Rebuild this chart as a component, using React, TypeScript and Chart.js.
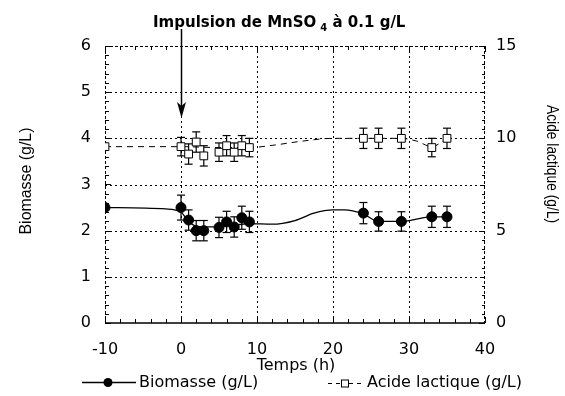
import React, { useEffect, useRef } from 'react';
import { Chart, registerables } from 'chart.js';

Chart.register(...registerables);

// ---- data ----
const hours = [-10, 0, 1, 2, 3, 5, 6, 7, 8, 9, 24, 26, 29, 33, 35];
const biomasse = [2.5, 2.5, 2.23, 2.0, 2.0, 2.07, 2.19, 2.08, 2.28, 2.19, 2.38, 2.2, 2.2, 2.3, 2.3];
const biomasseErr = [0, 0.27, 0.22, 0.22, 0.22, 0.22, 0.23, 0.22, 0.25, 0.23, 0.23, 0.21, 0.21, 0.23, 0.23];
const acide = [9.55, 9.55, 9.15, 9.8, 9.05, 9.25, 9.6, 9.25, 9.6, 9.5, 10, 10, 10, 9.5, 10];
const acideErr = [0, 0.5, 0.55, 0.55, 0.55, 0.5, 0.55, 0.5, 0.55, 0.5, 0.55, 0.55, 0.55, 0.5, 0.55];

// smoothed fit curves as drawn in the figure
const biomasseFitHours = [-10, -2, 0, 1, 2, 4, 6, 9, 12, 15, 17.5, 20, 21.5, 24, 26, 29, 33, 35];
const biomasseFit = [2.5, 2.47, 2.4, 2.2, 2.1, 2.08, 2.1, 2.15, 2.14, 2.22, 2.38, 2.45, 2.45, 2.36, 2.2, 2.2, 2.3, 2.3];
const acideFitHours = [-10, 0, 5, 9, 12, 16, 20, 24, 29, 31, 33, 35];
const acideFit = [9.55, 9.55, 9.5, 9.5, 9.62, 9.85, 10, 10, 10, 9.85, 9.55, 10];

const xGrid = [0, 10, 20, 30];
const yGrid = [1, 2, 3, 4, 5];

const TITLE_MAIN = 'Impulsion de MnSO';
const TITLE_SUB = '4';
const TITLE_END = ' à 0.1 g/L';
const LEFT_TITLE = 'Biomasse (g/L)';
const RIGHT_TITLE = 'Acide lactique (g/L)';
const X_TITLE = 'Temps (h)';
const LEG1 = 'Biomasse (g/L)';
const LEG2 = 'Acide lactique (g/L)';

function fitText(ctx: CanvasRenderingContext2D, text: string, x: number, y: number, target: number) {
  const w = ctx.measureText(text).width;
  const s = target / w;
  ctx.save();
  ctx.translate(x, y);
  ctx.scale(s, 1);
  ctx.textAlign = 'center';
  ctx.fillText(text, 0, 0);
  ctx.restore();
}

const decorPlugin = {
  id: 'decor',
  beforeDatasetsDraw(chart: any) {
    const { ctx, chartArea: a, scales } = chart;
    const xs = scales.x, ys = scales.y, yr = scales.y1;
    const line = (x1: number, y1: number, x2: number, y2: number) => {
      ctx.beginPath();
      ctx.moveTo(x1, y1);
      ctx.lineTo(x2, y2);
      ctx.stroke();
    };
    ctx.save();
    ctx.strokeStyle = '#000';
    ctx.fillStyle = '#000';
    // grid
    ctx.lineWidth = 1;
    ctx.setLineDash([2, 3]);
    for (const v of xGrid) {
      const px = Math.round(xs.getPixelForValue(v)) + 0.5;
      line(px, a.top, px, a.bottom);
    }
    for (const v of yGrid) {
      const py = Math.round(ys.getPixelForValue(v)) + 0.5;
      line(a.left, py, a.right, py);
    }
    // frame
    ctx.setLineDash([3, 2]);
    line(a.left, a.top + 0.5, a.right, a.top + 0.5);
    line(a.left + 0.5, a.top, a.left + 0.5, a.bottom);
    line(a.right - 0.5, a.top, a.right - 0.5, a.bottom);
    ctx.setLineDash([]);
    ctx.lineWidth = 1.5;
    line(a.left, a.bottom, a.right, a.bottom);
    // ticks
    ctx.lineWidth = 1;
    for (let v = -10; v <= 40.001; v += 2) {
      const px = Math.round(xs.getPixelForValue(v)) + 0.5;
      const len = Math.abs(v % 10) < 0.01 ? 6 : 4;
      line(px, a.bottom, px, a.bottom - len);
      line(px, a.top, px, a.top + len);
    }
    for (let v = 0; v <= 6.001; v += 0.2) {
      const py = Math.round(ys.getPixelForValue(v)) + 0.5;
      const len = Math.abs(v - Math.round(v)) < 0.01 ? 6 : 4;
      line(a.left, py, a.left + len, py);
    }
    for (let v = 0; v <= 15.001; v += 0.5) {
      const py = Math.round(yr.getPixelForValue(v)) + 0.5;
      const len = Math.abs(v % 5) < 0.01 ? 6 : 3;
      line(a.right, py, a.right - len, py);
    }
    // error bars
    ctx.lineWidth = 1.2;
    const bars = (vals: number[], errs: number[], sc: any) => {
      hours.forEach((h, i) => {
        if (!errs[i]) return;
        const px = xs.getPixelForValue(h);
        const top = sc.getPixelForValue(vals[i] + errs[i]);
        const bot = sc.getPixelForValue(vals[i] - errs[i]);
        line(px, top, px, bot);
        line(px - 4, top, px + 4, top);
        line(px - 4, bot, px + 4, bot);
      });
    };
    bars(biomasse, biomasseErr, ys);
    bars(acide, acideErr, yr);
    ctx.restore();
  },
  afterDraw(chart: any) {
    const { ctx, scales } = chart;
    const xs = scales.x;
    ctx.save();
    ctx.fillStyle = '#000';
    ctx.strokeStyle = '#000';
    // title with subscript
    ctx.textBaseline = 'alphabetic';
    ctx.textAlign = 'left';
    let x = 153;
    ctx.font = 'bold 15px "DejaVu Sans"';
    ctx.fillText(TITLE_MAIN, x, 27);
    x += ctx.measureText(TITLE_MAIN).width + 4;
    ctx.font = 'bold 10px "DejaVu Sans"';
    ctx.fillText(TITLE_SUB, x, 31);
    x += ctx.measureText(TITLE_SUB).width;
    ctx.font = 'bold 15px "DejaVu Sans"';
    ctx.fillText(TITLE_END, x, 27);
    // arrow at injection time
    const ax = Math.round(xs.getPixelForValue(0)) + 0.5;
    ctx.lineWidth = 1.5;
    ctx.beginPath();
    ctx.moveTo(ax, 29);
    ctx.lineTo(ax, 108);
    ctx.stroke();
    ctx.beginPath();
    ctx.moveTo(ax, 118);
    ctx.lineTo(ax - 4.5, 102);
    ctx.lineTo(ax, 106);
    ctx.lineTo(ax + 4.5, 102);
    ctx.closePath();
    ctx.fill();
    // axis titles
    ctx.font = '16px "Liberation Sans"';
    ctx.textBaseline = 'middle';
    ctx.save();
    ctx.translate(27, 181);
    ctx.rotate(-Math.PI / 2);
    fitText(ctx, LEFT_TITLE, 0, 0, 107);
    ctx.restore();
    ctx.save();
    ctx.translate(551, 164);
    ctx.rotate(Math.PI / 2);
    fitText(ctx, RIGHT_TITLE, 0, 0, 118);
    ctx.restore();
    ctx.font = '16px "DejaVu Sans"';
    ctx.textAlign = 'center';
    ctx.fillText(X_TITLE, 296, 366);
    // legend
    ctx.textAlign = 'left';
    ctx.lineWidth = 1.3;
    ctx.beginPath();
    ctx.moveTo(82, 382.5);
    ctx.lineTo(136, 382.5);
    ctx.stroke();
    ctx.beginPath();
    ctx.arc(108, 382.5, 4.5, 0, Math.PI * 2);
    ctx.fill();
    ctx.fillText(LEG1, 139, 383);
    ctx.lineWidth = 1;
    ctx.setLineDash([4, 4]);
    ctx.beginPath();
    ctx.moveTo(328, 383.5);
    ctx.lineTo(341, 383.5);
    ctx.moveTo(349, 383.5);
    ctx.lineTo(364, 383.5);
    ctx.stroke();
    ctx.setLineDash([]);
    ctx.fillStyle = '#fff';
    ctx.fillRect(341.5, 380, 7, 7);
    ctx.strokeRect(341.5, 380, 7, 7);
    ctx.fillStyle = '#000';
    ctx.fillText(LEG2, 367, 383);
    ctx.restore();
  },
};

export default function App() {
  const ref = useRef<HTMLCanvasElement | null>(null);
  useEffect(() => {
    document.body.style.margin = '0';
    const canvas = ref.current;
    if (!canvas) return;
    const tickFont = { family: '"DejaVu Sans"', size: 16 };
    const chart = new Chart(canvas, {
      type: 'line',
      data: {
        datasets: [
          {
            label: 'Biomasse (g/L) points',
            data: hours.map((h, i) => ({ x: h, y: biomasse[i] })),
            yAxisID: 'y',
            showLine: false,
            pointRadius: 5,
            pointBackgroundColor: '#000',
            pointBorderColor: '#000',
            pointBorderWidth: 1,
            order: 0,
          },
          {
            label: 'Acide lactique (g/L) points',
            data: hours.map((h, i) => ({ x: h, y: acide[i] })),
            yAxisID: 'y1',
            showLine: false,
            pointStyle: 'rect',
            pointRadius: 5.5,
            pointBackgroundColor: '#fff',
            pointBorderColor: '#000',
            pointBorderWidth: 1,
            order: 0,
          },
          {
            label: 'Biomasse (g/L)',
            data: biomasseFitHours.map((h, i) => ({ x: h, y: biomasseFit[i] })),
            yAxisID: 'y',
            borderColor: '#000',
            borderWidth: 1.3,
            pointRadius: 0,
            cubicInterpolationMode: 'monotone',
            fill: false,
            order: 1,
          },
          {
            label: 'Acide lactique (g/L)',
            data: acideFitHours.map((h, i) => ({ x: h, y: acideFit[i] })),
            yAxisID: 'y1',
            borderColor: '#000',
            borderWidth: 1,
            borderDash: [6, 5],
            pointRadius: 0,
            cubicInterpolationMode: 'monotone',
            fill: false,
            order: 1,
          },
        ],
      },
      options: {
        animation: false,
        responsive: false,
        devicePixelRatio: 1,
        layout: { padding: { top: 46, left: 0, right: 0, bottom: 0 } },
        plugins: { legend: { display: false }, tooltip: { enabled: false }, title: { display: false } },
        scales: {
          x: {
            type: 'linear',
            min: -10,
            max: 40,
            ticks: { stepSize: 10, color: '#000', font: tickFont, padding: 17, maxRotation: 0 },
            grid: { display: false, drawTicks: false },
            border: { display: false },
            afterFit: (s: any) => { s.height = 73; },
          },
          y: {
            type: 'linear',
            position: 'left',
            min: 0,
            max: 6,
            ticks: { stepSize: 1, color: '#000', font: tickFont, padding: 14 },
            grid: { display: false, drawTicks: false },
            border: { display: false },
            afterFit: (s: any) => { s.width = 105; },
          },
          y1: {
            type: 'linear',
            position: 'right',
            min: 0,
            max: 15,
            ticks: { stepSize: 5, color: '#000', font: tickFont, padding: 11 },
            grid: { display: false, drawTicks: false },
            border: { display: false },
            afterFit: (s: any) => { s.width = 80; },
          },
        },
      } as any,
      plugins: [decorPlugin],
    });
    return () => chart.destroy();
  }, []);
  return (
    <div style={{ width: 565, height: 396, background: '#fff' }}>
      <canvas ref={ref} width={565} height={396} />
    </div>
  );
}
